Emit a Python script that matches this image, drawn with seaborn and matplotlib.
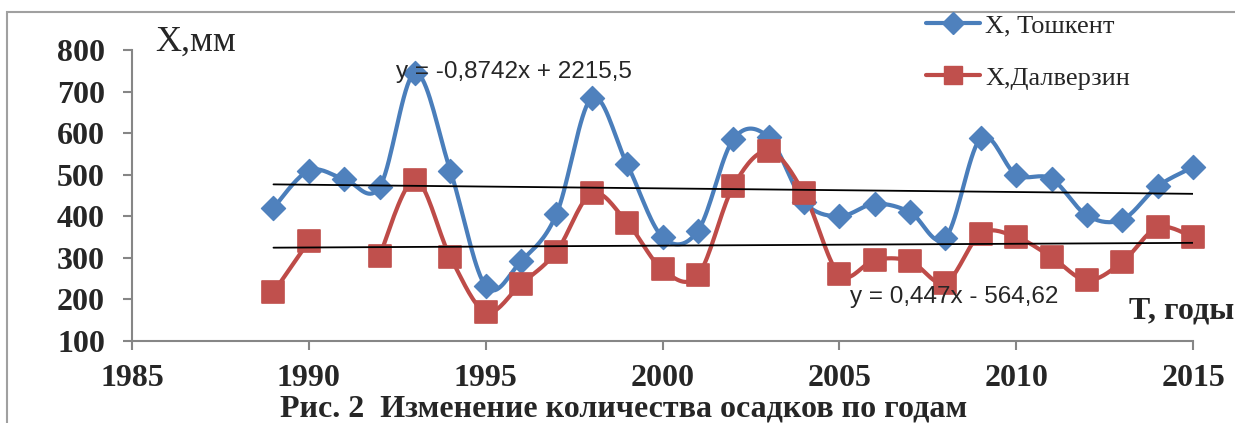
import numpy as np
import pandas as pd
import seaborn as sns
import matplotlib.pyplot as plt
from matplotlib.lines import Line2D
from matplotlib.patches import Rectangle

sns.set_style('white')
plt.rcParams['font.family'] = ['Liberation Serif', 'DejaVu Serif']

# data
years = list(range(1989, 2016))
tashkent = [420, 510, 490, 470, 745, 510, 232, 292, 405, 685, 525, 350, 365, 585,
            590, 435, 400, 430, 410, 348, 588, 500, 490, 402, 392, 472, 518]
dalverzin = [217, 340, np.nan, 305, 487, 302, 170, 237, 315, 455, 385, 272, 258, 472,
             557, 455, 260, 295, 292, 240, 358, 350, 302, 246, 290, 373, 350]
trend_t = (-0.8742, 2215.5)
trend_d = (0.447, -564.62)
eq_t = 'y = -0,8742x + 2215,5'
eq_d = 'y = 0,447x - 564,62'

blue = '#4A7EBB'
red = '#BE4B48'

df = pd.DataFrame({'year': years, 'Ташкент': tashkent, 'Далверзин': dalverzin})


def smooth(x, y, n=20):
    # Excel style smoothed line (Catmull-Rom bezier)
    x = np.asarray(x, float)
    y = np.asarray(y, float)
    xs, ys = [], []
    for i in range(len(x) - 1):
        p0 = np.array([x[max(i - 1, 0)], y[max(i - 1, 0)]])
        p1 = np.array([x[i], y[i]])
        p2 = np.array([x[i + 1], y[i + 1]])
        p3 = np.array([x[min(i + 2, len(x) - 1)], y[min(i + 2, len(x) - 1)]])
        c1 = p1 + (p2 - p0) / 6
        c2 = p2 - (p3 - p1) / 6
        t = np.linspace(0, 1, n)[:, None]
        pts = (1 - t) ** 3 * p1 + 3 * (1 - t) ** 2 * t * c1 + 3 * (1 - t) * t ** 2 * c2 + t ** 3 * p2
        xs.extend(pts[:, 0])
        ys.extend(pts[:, 1])
    return xs, ys


def segments(x, y):
    seg, out = [], []
    for a, b in zip(x, y):
        if np.isnan(b):
            if seg:
                out.append(seg)
            seg = []
        else:
            seg.append((a, b))
    if seg:
        out.append(seg)
    return out


fig = plt.figure(figsize=(12.35, 4.23), dpi=100)
ax = fig.add_axes([0.1069, 0.1939, 0.8591, 0.6879])

for col, color in [('Ташкент', blue), ('Далверзин', red)]:
    for seg in segments(df['year'], df[col]):
        if len(seg) == 1:
            continue
        sx, sy = smooth([p[0] for p in seg], [p[1] for p in seg])
        sns.lineplot(x=sx, y=sy, ax=ax, color=color, lw=3, sort=False, estimator=None)

sns.scatterplot(data=df, x='year', y='Ташкент', ax=ax, marker='D', s=150, color='#4F81BD',
                edgecolor='#4F81BD', zorder=5)
sns.scatterplot(data=df, x='year', y='Далверзин', ax=ax, marker='s', s=230, color='#C0504D',
                edgecolor='#C0504D', zorder=5)
for art in ax.collections + ax.lines:
    art.set_clip_on(False)

tx = np.array([years[0], years[-1]])
ax.plot(tx, trend_t[0] * tx + trend_t[1], color='black', lw=1.3, zorder=6)
ax.plot(tx, trend_d[0] * tx + trend_d[1], color='black', lw=1.3, zorder=6)

ax.text(1995.8, 747, eq_t, fontsize=17.5, family='Liberation Sans', ha='center', va='center', zorder=7)
ax.text(2008.25, 206, eq_d, fontsize=17.5, family='Liberation Sans', ha='center', va='center', zorder=7)

ax.set_xlim(1985, 2015)
ax.set_ylim(100, 800)
ax.set_xticks(range(1985, 2016, 5))
ax.set_yticks(range(100, 801, 100))
ax.set_xlabel('')
ax.set_ylabel('')
for s in ['top', 'right']:
    ax.spines[s].set_visible(False)
for s in ['left', 'bottom']:
    ax.spines[s].set_color('#868686')
    ax.spines[s].set_linewidth(1.5)
ax.tick_params(axis='both', direction='out', length=6.5, width=1.5, color='#868686',
               labelsize=23, left=True, bottom=True)
ax.tick_params(axis='y', pad=13)
ax.tick_params(axis='x', pad=10)
for lab in ax.get_xticklabels() + ax.get_yticklabels():
    lab.set_fontweight('bold')

fig.text(155 / 1235, 1 - 42 / 423, 'X,мм', fontsize=26, ha='left', va='center')
fig.text(1 - 1 / 1235, 1 - 311 / 423, 'T, годы', fontsize=23, fontweight='bold', ha='right', va='center')
fig.text(624 / 1235, 1 - 409 / 423, 'Рис. 2  Изменение количества осадков по годам', fontsize=23,
         fontweight='bold', ha='center', va='center')

handles = [Line2D([], [], color=blue, lw=3, marker='D', ms=11, mfc='#4F81BD', mec='#4F81BD'),
           Line2D([], [], color=red, lw=3, marker='s', ms=13, mfc='#C0504D', mec='#C0504D')]
fig.legend(handles, ['X, Тошкент', 'X,Далверзин'], loc='upper left', bbox_to_anchor=(902 / 1235, 1 + 10 / 423),
           frameon=False, fontsize=19, handlelength=2.05, labelspacing=1.1, handletextpad=0.2)

fig.patches.append(Rectangle((7 / 1235, -0.05), 1.1, 1 - 12 / 423 + 0.05, transform=fig.transFigure,
                             fill=False, edgecolor='#A0A0A0', lw=1.5))

fig.savefig('out.png', dpi=100)
